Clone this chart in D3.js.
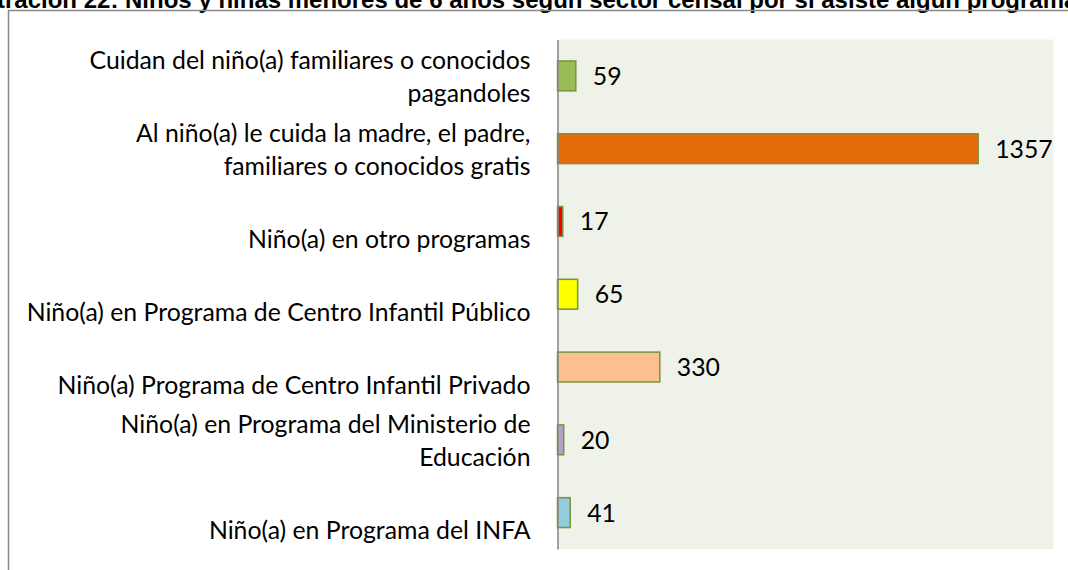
<!DOCTYPE html>
<html>
<head>
<meta charset="utf-8">
<script src="https://cdn.jsdelivr.net/npm/d3@7/dist/d3.min.js"></script>
<style>
  html, body { margin: 0; padding: 0; background: #ffffff; overflow: hidden; }
  svg { display: block; }
</style>
</head>
<body>
<svg id="chart" width="1068" height="570"></svg>
<script>
// Categories, top to bottom; "\n" marks a line break in the label
const categories = [
  "Cuidan del niño(a) familiares o conocidos\npagandoles",
  "Al niño(a) le cuida la madre, el padre,\nfamiliares o conocidos gratis",
  "Niño(a) en otro programas",
  "Niño(a) en Programa de Centro Infantil Público",
  "Niño(a) Programa de Centro Infantil Privado",
  "Niño(a) en Programa del Ministerio de\nEducación",
  "Niño(a) en Programa del INFA"
];
const values = [59, 1357, 17, 65, 330, 20, 41];
const barColors = ["#9BBB59", "#E46C0A", "#FF0000", "#FFFF00", "#FAC090", "#B3A2C7", "#93CDDD"];
const title = "Ilustración 22: Niños y niñas menores de 6 años según sector censal por si asiste algún programa";
const valueMax = 1600;

const svg = d3.select("#chart");
const plot = { left: 557.5, right: 1053.5, top: 39.5, bottom: 549 };

const x = d3.scaleLinear().domain([0, valueMax]).range([plot.left, plot.right]);
const y = d3.scaleBand().domain(d3.range(categories.length))
  .range([plot.top, plot.bottom]).paddingInner(0.59).paddingOuter(0.295);

// Title (runs past both edges of the page)
const titleText = svg.append("text")
  .attr("y", 7.5)
  .attr("font-family", "'Liberation Sans', Arial, sans-serif")
  .attr("font-weight", "bold")
  .attr("font-size", 24)
  .attr("fill", "#000")
  .text(title);
// shift so the visible part starts mid-word, the way the page is laid out
const prefixLen = titleText.node().getSubStringLength(0, 4);
titleText.attr("x", -prefixLen - 3);

// Chart frame
svg.append("rect")
  .attr("x", 8.5).attr("y", 10.5)
  .attr("width", 1200).attr("height", 700)
  .attr("fill", "none")
  .attr("stroke", "#8a8a8a")
  .attr("stroke-width", 1.5);

// Plot area background
svg.append("rect")
  .attr("x", plot.left).attr("y", plot.top)
  .attr("width", plot.right - plot.left).attr("height", plot.bottom - plot.top)
  .attr("fill", "#EFF2E9");

// Bars
svg.append("g").selectAll("rect")
  .data(values)
  .join("rect")
  .attr("x", x(0))
  .attr("y", (d, i) => y(i))
  .attr("width", d => x(d) - x(0))
  .attr("height", y.bandwidth())
  .attr("fill", (d, i) => barColors[i])
  .attr("stroke", "#77933C")
  .attr("stroke-width", 1.5);

// Category axis (line only, no ticks)
const yAxis = d3.axisLeft(y).tickSize(0).tickFormat(() => "");
const axisG = svg.append("g")
  .attr("transform", `translate(${plot.left},0)`)
  .call(yAxis);
axisG.select(".domain").attr("stroke", "#868686").attr("stroke-width", 1.5);

// Category labels
const labelFont = "Lato, 'Open Sans', sans-serif";
const labelSize = 24.8;
const lineGap = 33;
const labels = svg.append("g")
  .attr("font-family", labelFont)
  .attr("font-size", labelSize)
  .attr("fill", "#000")
  .attr("text-anchor", "end");
categories.forEach((c, i) => {
  const lines = c.split("\n");
  const cy = y(i) + y.bandwidth() / 2;
  const t = labels.append("text");
  lines.forEach((ln, j) => {
    t.append("tspan")
      .attr("x", plot.left - 27)
      .attr("y", cy + 26.5 - (lines.length - 1 - j) * lineGap)
      .text(ln);
  });
});

// Value labels
svg.append("g")
  .attr("font-family", labelFont)
  .attr("font-size", labelSize)
  .attr("fill", "#000")
  .selectAll("text")
  .data(values)
  .join("text")
  .attr("x", d => x(d) + 17)
  .attr("y", (d, i) => y(i) + y.bandwidth() / 2 + 9)
  .text(d => d);
</script>
</body>
</html>
